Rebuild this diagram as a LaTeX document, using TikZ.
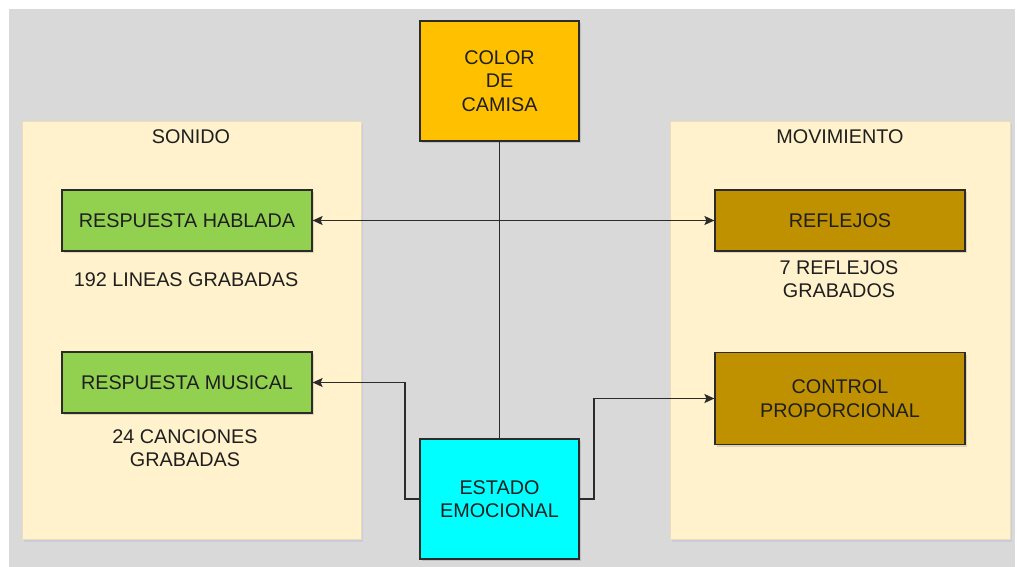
\documentclass[tikz,border=0pt]{standalone}
\usepackage{fontspec}
\setmainfont{Liberation Sans}
\usetikzlibrary{arrows.meta,shadows}
\definecolor{canvas}{HTML}{D9D9D9}
\definecolor{panelfill}{HTML}{FFF2CC}
\definecolor{panelline}{HTML}{E8DDB8}
\definecolor{gold}{HTML}{FFC000}
\definecolor{leaf}{HTML}{92D050}
\definecolor{ochre}{HTML}{BF9000}
\definecolor{aqua}{HTML}{00FFFF}
\definecolor{ink}{HTML}{1F1F1F}
\definecolor{edge}{HTML}{2B2B2B}
\tikzset{
  x=1pt, y=-1pt,
  panel/.style={draw=panelline, fill=panelfill, line width=0.8pt,
    drop shadow={shadow xshift=2pt, shadow yshift=-3pt, fill=black!40!blue!30, opacity=0.35}},
  box/.style={draw=edge, line width=1.2pt, text=ink, align=center,
    font=\fontsize{19.8}{23.5}\selectfont, inner sep=0pt,
    drop shadow={shadow xshift=1.5pt, shadow yshift=-2pt, fill=black, opacity=0.12}},
  label/.style={text=ink, align=center, font=\fontsize{19.8}{23.5}\selectfont, inner sep=0pt},
  wire/.style={draw=edge, line width=1.2pt},
  arr/.style={wire, -{Stealth[length=10pt,width=9pt,inset=2pt]}},
  darr/.style={wire, {Stealth[length=10pt,width=9pt,inset=2pt]}-{Stealth[length=10pt,width=9pt,inset=2pt]}},
}
\begin{document}
\begin{tikzpicture}
  \useasboundingbox (0,0) rectangle (1017,567);
  \fill[canvas] (9,9) rectangle (1015,567);

  % group panels
  \path[panel] (22,121) rectangle (361,539);
  \path[panel] (670,121) rectangle (1010,539);
  \node[label] (sonido) at (191,136.5) {SONIDO};
  \node[label] (movimiento) at (840,136.5) {MOVIMIENTO};

  % blocks
  \node[box, fill=gold, minimum width=159pt, minimum height=120pt] (color) at (499.5,81) {COLOR\\DE\\CAMISA};
  \node[box, fill=leaf, minimum width=250pt, minimum height=61pt] (hablada) at (187,220.5) {RESPUESTA HABLADA};
  \node[box, fill=leaf, minimum width=250pt, minimum height=61pt] (musical) at (187,382.5) {RESPUESTA MUSICAL};
  \node[box, fill=ochre, minimum width=250pt, minimum height=61pt] (reflejos) at (840,220.5) {REFLEJOS};
  \node[box, fill=ochre, minimum width=250pt, minimum height=92pt] (control) at (840,398.5) {CONTROL\\PROPORCIONAL};
  \node[box, fill=aqua, minimum width=159pt, minimum height=120pt] (estado) at (499.5,499) {ESTADO\\EMOCIONAL};

  % notes
  \node[label] (lineas) at (186,280) {192 LINEAS GRABADAS};
  \node[label] (canciones) at (185,448) {24 CANCIONES\\GRABADAS};
  \node[label] (grabados) at (839,279) {7 REFLEJOS\\GRABADOS};

  % connectors
  \coordinate (lbend) at (405,0);
  \coordinate (rbend) at (594,0);
  \draw[wire] (color.south) -- (estado.north);
  \draw[darr] (hablada.east) -- (reflejos.west |- hablada.east);
  \draw[arr] (estado.west) -| (lbend |- musical.east) -- (musical.east);
  \draw[arr] (estado.east) -| (rbend |- control.west) -- (control.west);
\end{tikzpicture}
\end{document}
